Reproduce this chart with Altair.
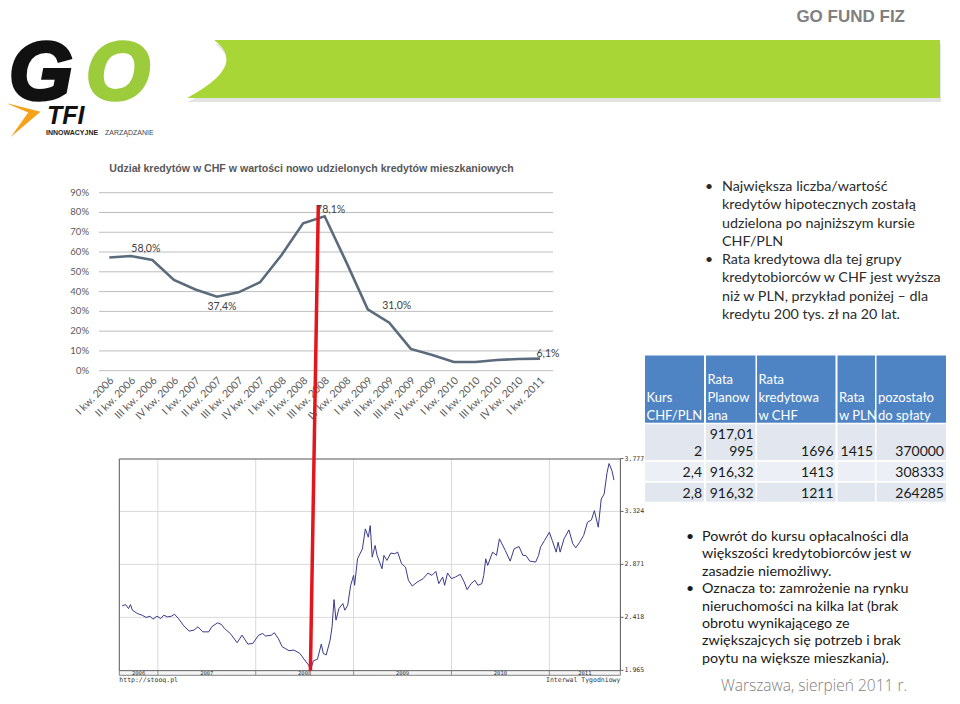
import altair as alt
import pandas as pd

# ---------------- data ----------------
quarters = ["I kw. 2006", "II kw. 2006", "III kw. 2006", "IV kw. 2006",
            "I kw. 2007", "II kw. 2007", "III kw. 2007", "IV kw. 2007",
            "I kw. 2008", "II kw. 2008", "III kw. 2008", "IV kw. 2008",
            "I kw. 2009", "II kw. 2009", "III kw. 2009", "IV kw. 2009",
            "I kw. 2010", "II kw. 2010", "III kw. 2010", "IV kw. 2010",
            "I kw. 2011"]
chf_share_pct = [57.2, 58.0, 56.0, 45.9, 41.1, 37.4, 39.6, 44.7, 58.5, 74.5,
                 78.1, 55.0, 31.0, 24.3, 11.0, 7.9, 4.4, 4.4, 5.4, 5.9, 6.1]
share_ticks = [0, 10, 20, 30, 40, 50, 60, 70, 80, 90]
labelled_points = [1, 5, 10, 12, 20]

chf_pln_year = [
    2006.635, 2006.67, 2006.70, 2006.72, 2006.74, 2006.79, 2006.84, 2006.88, 2006.92, 2006.95,
    2006.99, 2007.03, 2007.06, 2007.10, 2007.14, 2007.17, 2007.21, 2007.26, 2007.32, 2007.37,
    2007.41, 2007.46, 2007.52, 2007.55, 2007.61, 2007.65, 2007.68, 2007.74, 2007.81, 2007.86,
    2007.92, 2007.97, 2008.03, 2008.07, 2008.10, 2008.16, 2008.19, 2008.23, 2008.27, 2008.30,
    2008.34, 2008.39, 2008.45, 2008.50, 2008.54, 2008.56, 2008.59, 2008.63, 2008.67, 2008.69,
    2008.72, 2008.76, 2008.78, 2008.80, 2008.82, 2008.85, 2008.89, 2008.91, 2008.94, 2008.97,
    2009.00, 2009.01, 2009.04, 2009.09, 2009.12, 2009.15, 2009.17, 2009.19, 2009.22, 2009.24,
    2009.29, 2009.31, 2009.34, 2009.38, 2009.42, 2009.45, 2009.49, 2009.53, 2009.56, 2009.60,
    2009.65, 2009.71, 2009.76, 2009.80, 2009.84, 2009.87, 2009.91, 2009.93, 2009.96, 2010.00,
    2010.04, 2010.09, 2010.13, 2010.16, 2010.20, 2010.24, 2010.27, 2010.31, 2010.33, 2010.35,
    2010.37, 2010.42, 2010.46, 2010.49, 2010.55, 2010.60, 2010.64, 2010.69, 2010.73, 2010.76,
    2010.80, 2010.86, 2010.89, 2010.91, 2010.95, 2011.00, 2011.03, 2011.07, 2011.09, 2011.11,
    2011.15, 2011.20, 2011.24, 2011.27, 2011.31, 2011.35, 2011.39, 2011.43, 2011.46, 2011.50,
    2011.53, 2011.56, 2011.59, 2011.61, 2011.64, 2011.66]
chf_pln_rate = [
    2.516, 2.527, 2.493, 2.527, 2.479, 2.451, 2.436, 2.417, 2.428, 2.402,
    2.428, 2.408, 2.436, 2.422, 2.428, 2.445, 2.408, 2.351, 2.300, 2.309,
    2.337, 2.294, 2.294, 2.337, 2.371, 2.357, 2.323, 2.280, 2.201, 2.266,
    2.189, 2.195, 2.266, 2.280, 2.258, 2.266, 2.286, 2.238, 2.167, 2.152,
    2.133, 2.138, 2.110, 2.053, 2.010, 1.968, 2.047, 2.059, 2.189, 2.110,
    2.096, 2.223, 2.337, 2.570, 2.394, 2.493, 2.536, 2.479, 2.522, 2.692,
    2.777, 2.692, 2.919, 3.004, 3.175, 3.104, 3.203, 2.933, 3.033, 2.948,
    2.834, 2.948, 2.905, 2.968, 2.962, 2.976, 2.877, 2.848, 2.735, 2.686,
    2.720, 2.749, 2.797, 2.777, 2.811, 2.706, 2.763, 2.692, 2.797, 2.749,
    2.763, 2.786, 2.720, 2.655, 2.706, 2.735, 2.692, 2.706, 2.777, 2.919,
    2.862, 2.976, 2.948, 3.090, 2.990, 2.899, 3.004, 3.024, 2.948, 2.948,
    2.899, 2.891, 2.948, 3.019, 3.075, 3.146, 3.075, 2.976, 3.061, 2.976,
    3.090, 3.166, 3.047, 3.013, 3.061, 3.118, 3.232, 3.252, 3.331, 3.189,
    3.430, 3.473, 3.658, 3.734, 3.672, 3.592]
rate_ticks = [1.965, 2.418, 2.871, 3.324, 3.777]
stooq_years = [2006, 2007, 2008, 2009, 2010, 2011]

table_header = ["Kurs\nCHF/PLN", "Rata\nPlanow\nana", "Rata\nkredytowa\nw CHF", "Rata\nw PLN", "pozostało\ndo spłaty"]
kurs = ["2", "2,4", "2,8"]
rata_planowana = ["917,01\n995", "916,32", "916,32"]
rata_kredytowa_chf = ["1696", "1413", "1211"]
rata_pln = ["1415", "", ""]
pozostalo = ["370000", "308333", "264285"]

top_bullets = [
    ["Największa liczba/wartość", "kredytów hipotecznych zostałą",
     "udzielona po najniższym kursie", "CHF/PLN"],
    ["Rata kredytowa dla tej grupy", "kredytobiorców w CHF jest wyższa",
     "niż w PLN, przykład poniżej – dla", "kredytu 200 tys. zł na 20 lat."],
]
bottom_bullets = [
    ["Powrót do kursu opłacalności dla", "większości kredytobiorców jest w",
     "zasadzie niemożliwy."],
    ["Oznacza to: zamrożenie na rynku", "nieruchomości na kilka lat (brak",
     "obrotu wynikającego ze", "zwiększajcych się potrzeb i brak",
     "poytu na większe mieszkania)."],
]

# ---------------- helpers ----------------
W, H = 944, 688
SANS = "Lato, 'Open Sans', sans-serif"
ARIAL = "'Liberation Sans', Arial, sans-serif"
MONO = "'DejaVu Sans Mono', 'Liberation Mono', monospace"


def blank():
    return alt.Chart(alt.Data(values=[{"k": 0}]))


def label(s, x, y, size, color="#222222", font=SANS, weight="normal", style="normal",
          align="left", baseline="alphabetic", line_height=None, **extra):
    props = dict(font=font, fontSize=size, color=color, fontWeight=weight,
                 fontStyle=style, align=align, baseline=baseline, lineBreak="\n")
    if line_height is not None:
        props["lineHeight"] = line_height
    props.update(extra)
    return blank().mark_text(**props).encode(x=alt.value(x), y=alt.value(y), text=alt.value(s))


def box(x0, x1, y0, y1, **kw):
    return blank().mark_rect(**kw).encode(x=alt.value(x0), x2=alt.value(x1),
                                         y=alt.value(y0), y2=alt.value(y1))


layers = []

# ---------------- header / logo ----------------
banner_path = "M -0.928 -0.077 L 1 -0.077 L 1 0.077 L -1 0.077 Q -0.836 -0.01 -0.928 -0.077 Z"
layers.append(blank().mark_point(shape=banner_path, filled=True, size=753 ** 2,
                                 color="#dcdcdc", opacity=0.8, strokeWidth=0)
              .encode(x=alt.value(556.5), y=alt.value(65)))
layers.append(blank().mark_point(shape=banner_path, filled=True, size=753 ** 2,
                                 color="#a8d636", opacity=1, strokeWidth=0)
              .encode(x=alt.value(555.5), y=alt.value(61)))
layers.append(label("GO FUND FIZ", 897, 14, 17, "#808080", ARIAL, "bold", align="right"))
layers.append(label("G", 1, 91, 82, "#111111", ARIAL, "bold", "italic",
                    stroke="#111111", strokeWidth=3.5))
layers.append(label("O", 78, 91, 82, "#9ccc3c", ARIAL, "bold", "italic",
                    stroke="#9ccc3c", strokeWidth=3.5))
layers.append(blank().mark_point(shape="M -1 -0.95 L 1 -0.45 L -0.7 1 L 0.3 -0.4 Z",
                                 filled=True, size=1225, color="#f5a21b", strokeWidth=0, opacity=1)
              .encode(x=alt.value(15), y=alt.value(111.5)))
layers.append(label("TFI", 39, 115.5, 25, "#111111", ARIAL, "bold", "italic"))
layers.append(label("INNOWACYJNE", 38, 126.5, 7, "#222222", ARIAL, "bold"))
layers.append(label("ZARZĄDZANIE", 97, 126.5, 7, "#444444", ARIAL))

# ---------------- chart 1: share of CHF loans ----------------
df1 = pd.DataFrame({"i": list(range(len(quarters))), "q": quarters, "v": chf_share_pct})
S1X = alt.Scale(domain=[0, 20], range=[101.3, 532.0], nice=False, zero=False)
S1XL = alt.Scale(domain=[0, 20], range=[104.3, 535.0], nice=False, zero=False)
S1Y = alt.Scale(domain=[0, 90], range=[362.7, 184.7], nice=False, zero=False)
ticks1 = pd.DataFrame({"t": share_ticks, "lab": [f"{t}%" for t in share_ticks]})

layers.append(label("Udział kredytów w CHF w wartości nowo udzielonych kredytów mieszkaniowych",
                    303.5, 161, 10.6, "#595959", ARIAL, "bold", align="center", baseline="middle"))
layers.append(alt.Chart(ticks1).mark_rule(color="#bdbdbd", strokeWidth=1).encode(
    y=alt.Y("t:Q", scale=S1Y, axis=None), x=alt.value(91), x2=alt.value(545)))
layers.append(alt.Chart(ticks1).mark_text(align="right", baseline="middle", font=SANS,
                                          fontSize=9.5, color="#595959").encode(
    y=alt.Y("t:Q", scale=S1Y, axis=None), x=alt.value(81), text="lab:N"))
layers.append(alt.Chart(df1).mark_text(angle=315, align="right", baseline="middle", font=SANS,
                                       fontSize=10.5, color="#595959").encode(
    x=alt.X("i:Q", scale=S1XL, axis=None), y=alt.value(371), text="q:N"))
layers.append(alt.Chart(df1).mark_line(color="#5b6b7b", strokeWidth=2.6).encode(
    x=alt.X("i:Q", scale=S1X, axis=None), y=alt.Y("v:Q", scale=S1Y, axis=None)))
for idx, dx, dy in zip(labelled_points, [15, 5, 6, 29, 8], [-7, 10, -6, -3, -5]):
    v = chf_share_pct[idx]
    d = pd.DataFrame({"i": [idx], "v": [v], "lab": [f"{v:.1f}%".replace(".", ",")]})
    layers.append(alt.Chart(d).mark_text(font=SANS, fontSize=10.5, color="#404040",
                                         dx=dx, dy=dy, baseline="middle").encode(
        x=alt.X("i:Q", scale=S1X, axis=None), y=alt.Y("v:Q", scale=S1Y, axis=None), text="lab:N"))

# ---------------- chart 2: CHF/PLN weekly ----------------
DOM2 = [2006.606, 2011.726]
S2X = alt.Scale(domain=DOM2, range=[111.3, 612.4], nice=False, zero=False)
S2Y = alt.Scale(domain=[1.965, 3.777], range=[662.3, 450.5], nice=False, zero=False)
df2 = pd.DataFrame({"t": chf_pln_year, "r": chf_pln_rate})
rt = pd.DataFrame({"r": rate_ticks, "lab": [f"{r:.3f}" for r in rate_ticks]})
yr_bounds = pd.DataFrame({"y": stooq_years[1:]})
yr_labels = pd.DataFrame({
    "m": [(max(y, DOM2[0]) + min(y + 1, DOM2[1])) / 2 for y in stooq_years],
    "lab": [str(y) for y in stooq_years]})

layers.append(alt.Chart(yr_bounds).mark_rule(color="#dadada", strokeWidth=1).encode(
    x=alt.X("y:Q", scale=S2X, axis=None), y=alt.value(451), y2=alt.value(662.7)))
layers.append(alt.Chart(rt.iloc[1:4]).mark_rule(color="#dadada", strokeWidth=1).encode(
    y=alt.Y("r:Q", scale=S2Y, axis=None), x=alt.value(111.3), x2=alt.value(612.4)))
layers.append(alt.Chart(rt).mark_rule(color="#666666", strokeWidth=1).encode(
    y=alt.Y("r:Q", scale=S2Y, axis=None), x=alt.value(612.4), x2=alt.value(615.5)))
layers.append(box(111.3, 612.4, 451, 662.7, fillOpacity=0, stroke="#555555", strokeWidth=1))
layers.append(box(111.3, 612.4, 662.7, 667.3, fill="#f4f4f4", stroke="#666666", strokeWidth=0.8))
layers.append(alt.Chart(yr_bounds).mark_rule(color="#777777", strokeWidth=0.8).encode(
    x=alt.X("y:Q", scale=S2X, axis=None), y=alt.value(662.7), y2=alt.value(667.3)))
layers.append(alt.Chart(yr_labels).mark_text(font=MONO, fontSize=5.5, color="#333333",
                                             baseline="middle").encode(
    x=alt.X("m:Q", scale=S2X, axis=None), y=alt.value(665), text="lab:N"))
layers.append(alt.Chart(rt).mark_text(font=MONO, fontSize=6.5, color="#333333", align="left",
                                      baseline="middle").encode(
    y=alt.Y("r:Q", scale=S2Y, axis=None), x=alt.value(616.6), text="lab:N"))
layers.append(alt.Chart(df2).mark_line(color="#3a3a8c", strokeWidth=1).encode(
    x=alt.X("t:Q", scale=S2X, axis=None), y=alt.Y("r:Q", scale=S2Y, axis=None)))
layers.append(label("http://stooq.pl", 111.3, 674, 6.5, "#333333", MONO))
layers.append(label("Interwal Tygodniowy", 612.4, 674, 6.5, "#333333", MONO, align="right"))

# ---------------- table ----------------
col_bounds = [(637, 696), (698, 747.5), (749, 827.5), (829.5, 867), (868.5, 938)]
row_bounds = [(347.5, 414.7), (416.3, 452), (453.7, 473), (474.7, 493.7)]
row_fill = ["#4f84c4", "#e1e6ef", "#eceff5", "#e1e6ef"]
for r, (y0, y1) in enumerate(row_bounds):
    for (x0, x1) in col_bounds:
        layers.append(box(x0, x1, y0, y1, color=row_fill[r]))
for (x0, x1), h in zip(col_bounds, table_header):
    n = h.count("\n") + 1
    layers.append(label(h, x0 + 1.5, 412 - (n - 1) * 18, 13, "#ffffff", SANS, line_height=18))
body_cols = [kurs, rata_planowana, rata_kredytowa_chf, rata_pln, pozostalo]
row_base = [448, 469, 490]
for (x0, x1), col in zip(col_bounds, body_cols):
    for r, s in enumerate(col):
        if not s:
            continue
        n = s.count("\n") + 1
        layers.append(label(s, x1 - 2, row_base[r] - (n - 1) * 17, 14, "#1a1a1a", SANS,
                            align="right", line_height=17))

# ---------------- text blocks ----------------
y = 183.0
for para in top_bullets:
    layers.append(label("•", 697, y, 14, "#2b2b2b", SANS))
    layers.append(label("\n".join(para), 714, y, 14.3, "#2b2b2b", SANS, line_height=18.3))
    y += 18.3 * len(para)
y = 533.0
for para in bottom_bullets:
    layers.append(label("•", 678, y, 14, "#1a1a1a", SANS))
    layers.append(label("\n".join(para), 694, y, 14.3, "#1a1a1a", SANS, line_height=17.4))
    y += 17.4 * len(para)
layers.append(label("Warszawa, sierpień 2011 r.", 806, 683, 15.5, "#808080",
                    "'Open Sans', sans-serif", 300, align="center"))

# ---------------- red connector ----------------
layers.append(blank().mark_rule(color="#e3161c", strokeWidth=3.5).encode(
    x=alt.value(310.3), y=alt.value(198), x2=alt.value(302.4), y2=alt.value(662.7)))

chart = (alt.layer(*layers)
         .resolve_scale(x="independent", y="independent")
         .properties(width=W, height=H, padding=0,
                     autosize=alt.AutoSizeParams(type="none"), background="white")
         .configure_view(stroke=None))

chart.save("out.html", embed_options={"renderer": "svg", "actions": False})
